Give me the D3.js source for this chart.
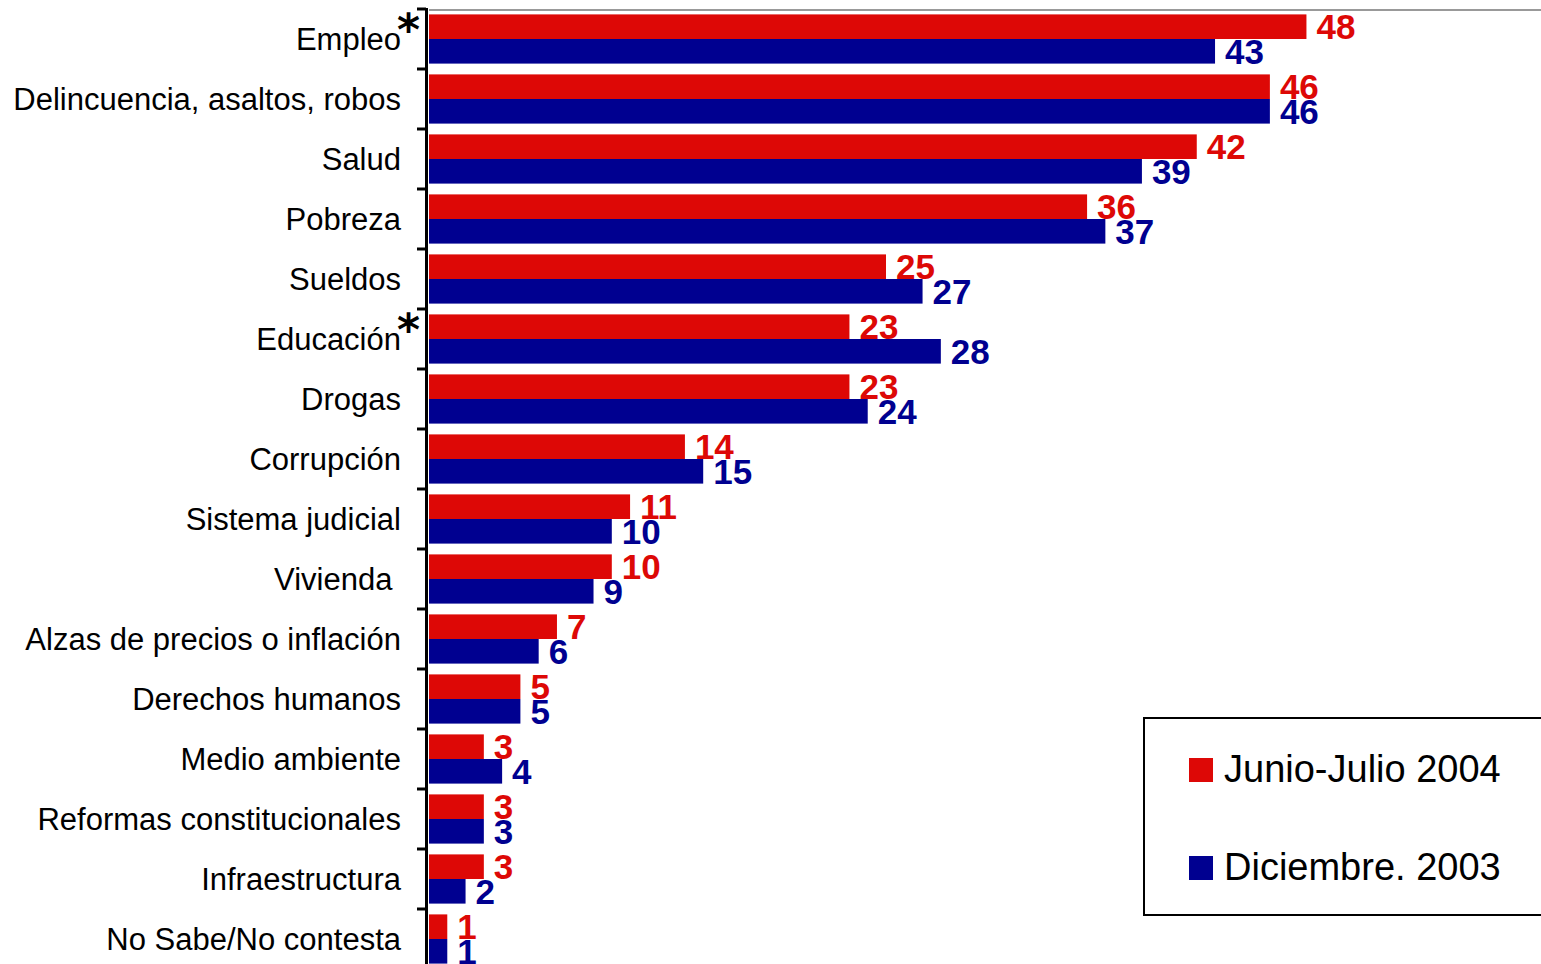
<!DOCTYPE html>
<html>
<head>
<meta charset="utf-8">
<script src="https://cdn.jsdelivr.net/npm/d3@7"></script>
<style>
  html, body { margin: 0; padding: 0; background: #fff; }
  svg { display: block; }
  .cat-label { font-family: "Liberation Sans", Arial, sans-serif; font-size: 31px; fill: #000; white-space: pre; }
  .star { font-family: "DejaVu Sans", sans-serif; font-weight: bold; font-size: 44px; fill: #000; }
  .val { font-family: "Liberation Sans", Arial, sans-serif; font-weight: bold; font-size: 35px; }
  .legend-text { font-family: "Liberation Sans", Arial, sans-serif; font-size: 38px; fill: #000; }
</style>
</head>
<body>
<div id="chart"></div>
<script>
// data
const categories = [
  "Empleo", "Delincuencia, asaltos, robos", "Salud", "Pobreza", "Sueldos",
  "Educación", "Drogas", "Corrupción", "Sistema judicial", "Vivienda ",
  "Alzas de precios o inflación", "Derechos humanos", "Medio ambiente",
  "Reformas constitucionales", "Infraestructura", "No Sabe/No contesta"
];
const starred = ["Empleo", "Educación"];
const seriesNames = ["Junio-Julio 2004", "Diciembre. 2003"];
const junioJulio2004 = [48, 46, 42, 36, 25, 23, 23, 14, 11, 10, 7, 5, 3, 3, 3, 1];
const diciembre2003 = [43, 46, 39, 37, 27, 28, 24, 15, 10, 9, 6, 5, 4, 3, 2, 1];
const colors = ["#dd0806", "#000090"];

const width = 1541, height = 964;
const svg = d3.select("#chart").append("svg")
  .attr("width", width)
  .attr("height", height);

const y = d3.scaleBand()
  .domain(categories)
  .range([9, 969])
  .paddingInner(0.18)
  .paddingOuter(0.09);

const ySub = d3.scaleBand()
  .domain(seriesNames)
  .range([0, y.bandwidth()]);

const x = d3.scaleLinear()
  .domain([0, 60])
  .range([429, 429 + 60 * 18.28]);

const rows = categories.map((c, i) => ({
  cat: c,
  values: [junioJulio2004[i], diciembre2003[i]]
}));

// top border of plot area
svg.append("line")
  .attr("x1", x(0)).attr("x2", width)
  .attr("y1", 10).attr("y2", 10)
  .attr("stroke", "#999").attr("stroke-width", 2);

// bars
const groups = svg.selectAll(".grp")
  .data(rows)
  .enter().append("g")
  .attr("class", "grp")
  .attr("transform", d => `translate(0, ${y(d.cat)})`);

groups.selectAll("rect")
  .data(d => d.values.map((v, j) => ({ v, s: seriesNames[j], j })))
  .enter().append("rect")
  .attr("x", x(0))
  .attr("y", d => ySub(d.s))
  .attr("width", d => x(d.v) - x(0))
  .attr("height", ySub.bandwidth())
  .attr("fill", d => colors[d.j]);

groups.selectAll("text.val")
  .data(d => d.values.map((v, j) => ({ v, s: seriesNames[j], j })))
  .enter().append("text")
  .attr("class", "val")
  .attr("x", d => x(d.v) + 10)
  .attr("y", d => ySub(d.s) + ySub.bandwidth() / 2 + (d.j === 0 ? 12 : 13))
  .attr("fill", d => colors[d.j])
  .text(d => d.v);

// category axis
const step = y.step();
const boundaries = categories.map(c => y(c) - step * y.paddingInner() / 2);
boundaries.push(y.range()[1]);

svg.append("line")
  .attr("x1", 426.5).attr("x2", 426.5)
  .attr("y1", 8).attr("y2", height)
  .attr("stroke", "#000").attr("stroke-width", 3);

svg.selectAll(".tick")
  .data(boundaries)
  .enter().append("line")
  .attr("class", "tick")
  .attr("x1", 417).attr("x2", 426)
  .attr("y1", d => d).attr("y2", d => d)
  .attr("stroke", "#000").attr("stroke-width", 3);

svg.selectAll(".cat-label")
  .data(categories)
  .enter().append("text")
  .attr("class", "cat-label")
  .attr("x", 401)
  .attr("y", d => y(d) + y.bandwidth() / 2 + 11)
  .attr("text-anchor", "end")
  .text(d => d);

svg.selectAll(".star")
  .data(starred)
  .enter().append("text")
  .attr("class", "star")
  .attr("x", 397)
  .attr("y", d => y(d) + y.bandwidth() / 2 + 6)
  .text("*");

// legend
const legend = svg.append("g");
legend.append("rect")
  .attr("x", 1144).attr("y", 718)
  .attr("width", 420).attr("height", 197)
  .attr("fill", "#fff")
  .attr("stroke", "#000").attr("stroke-width", 2);

const items = legend.selectAll(".item")
  .data(seriesNames)
  .enter().append("g")
  .attr("transform", (d, i) => `translate(1189, ${758 + i * 98})`);

items.append("rect")
  .attr("width", 24).attr("height", 24)
  .attr("fill", (d, i) => colors[i]);

items.append("text")
  .attr("class", "legend-text")
  .attr("x", 35)
  .attr("y", 24)
  .text(d => d);
</script>
</body>
</html>
